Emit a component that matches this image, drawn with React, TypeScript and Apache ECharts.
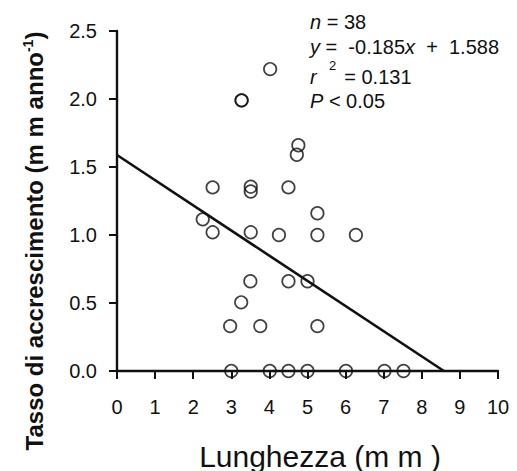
import React, { useEffect, useRef } from "react";
import * as echarts from "echarts";

// Data
const lengthMm = [
  4.02, 3.27, 3.27, 4.76, 4.72, 2.51, 3.51, 3.51, 4.5, 5.26,
  2.25, 2.51, 3.51, 4.25, 5.26, 6.27, 3.5, 4.5, 5.0, 3.26,
  2.97, 3.76, 5.26, 3.0, 4.01, 4.5, 5.0, 6.01, 7.02, 7.52,
];
const growthRate = [
  2.22, 1.99, 1.99, 1.66, 1.59, 1.35, 1.355, 1.32, 1.35, 1.16,
  1.115, 1.02, 1.02, 1.0, 1.0, 1.0, 0.66, 0.66, 0.66, 0.505,
  0.33, 0.33, 0.33, 0, 0, 0, 0, 0, 0, 0,
];
const regLineX = [0, 8.58];
const regLineY = [1.588, 0];
const xTicks = { min: 0, max: 10, interval: 1 };
const yTicks = { min: 0, max: 2.5, interval: 0.5 };

const FONT = "'Liberation Sans', Arial, sans-serif";
const INK = "#111";

export default function App() {
  const ref = useRef<HTMLDivElement>(null);
  useEffect(() => {
    if (!ref.current) return;
    const chart = echarts.init(ref.current, undefined, { renderer: "svg" });
    const points = lengthMm.map((x, i) => [x, growthRate[i]]);
    const line = regLineX.map((x, i) => [x, regLineY[i]]);
    const axisCommon = {
      type: "value" as const,
      splitLine: { show: false },
      axisLine: { show: true, onZero: false, lineStyle: { color: INK, width: 2.4 } },
      axisTick: { show: true, inside: false, length: 8, lineStyle: { color: INK, width: 2 } },
    };
    chart.setOption({
      animation: false,
      backgroundColor: "#fff",
      grid: { left: 117, top: 31, width: 381, height: 340 },
      xAxis: {
        ...axisCommon,
        min: xTicks.min,
        max: xTicks.max,
        interval: xTicks.interval,
        axisLabel: { fontSize: 20, margin: 26, color: INK, fontFamily: FONT },
      },
      yAxis: {
        ...axisCommon,
        min: yTicks.min,
        max: yTicks.max,
        interval: yTicks.interval,
        axisLabel: {
          fontSize: 20,
          margin: 20,
          color: INK,
          fontFamily: FONT,
          formatter: (v: number) => v.toFixed(1),
        },
      },
      series: [
        {
          type: "line",
          data: line,
          symbol: "none",
          lineStyle: { color: INK, width: 2.6 },
          z: 3,
        },
        {
          type: "scatter",
          data: points,
          symbol: "circle",
          symbolSize: 12.5,
          itemStyle: { color: "rgba(0,0,0,0)", borderColor: INK, borderWidth: 1.7 },
          z: 4,
        },
      ],
      graphic: [
        {
          type: "text",
          x: 310,
          y: 22,
          style: {
            text: "{i|n} = 38",
            fill: INK,
            font: `20px ${FONT}`,
            textVerticalAlign: "middle",
            rich: { i: { fontStyle: "italic", fontSize: 20, fontFamily: FONT, fill: INK } },
          },
        },
        {
          type: "text",
          x: 310,
          y: 47,
          style: {
            text: "{i|y} =  -0.185{i|x}  +  1.588",
            fill: INK,
            font: `20px ${FONT}`,
            textVerticalAlign: "middle",
            rich: { i: { fontStyle: "italic", fontSize: 20, fontFamily: FONT, fill: INK } },
          },
        },
        {
          type: "text",
          x: 310,
          y: 77,
          style: {
            text: "{i|r} = 0.131",
            fill: INK,
            font: `20px ${FONT}`,
            textVerticalAlign: "middle",
            rich: {
              i: { fontStyle: "italic", fontSize: 20, fontFamily: FONT, fill: INK, padding: [0, 22, 0, 0] },
            },
          },
        },
        {
          type: "text",
          x: 329,
          y: 65,
          style: {
            text: "2",
            fill: INK,
            font: `13px ${FONT}`,
            textVerticalAlign: "middle",
          },
        },
        {
          type: "text",
          x: 310,
          y: 101,
          style: {
            text: "{i|P} < 0.05",
            fill: INK,
            font: `20px ${FONT}`,
            textVerticalAlign: "middle",
            rich: { i: { fontStyle: "italic", fontSize: 20, fontFamily: FONT, fill: INK } },
          },
        },
        {
          type: "text",
          x: 320,
          y: 456,
          style: {
            text: "Lunghezza (m m )",
            fill: INK,
            font: `30px ${FONT}`,
            textAlign: "center",
            textVerticalAlign: "middle",
          },
        },
        {
          type: "text",
          x: 34,
          y: 241,
          rotation: Math.PI / 2,
          style: {
            text: "Tasso di accrescimento (m m anno{s|-1})",
            fill: INK,
            font: `bold 24px ${FONT}`,
            textAlign: "center",
            textVerticalAlign: "middle",
            rich: {
              s: { fontSize: 14, fontWeight: "bold", fontFamily: FONT, fill: INK, padding: [0, 0, 12, 0] },
            },
          },
        },
      ],
    });
    return () => chart.dispose();
  }, []);
  return <div ref={ref} style={{ width: 517, height: 471, position: "absolute", left: 0, top: 0 }} />;
}
